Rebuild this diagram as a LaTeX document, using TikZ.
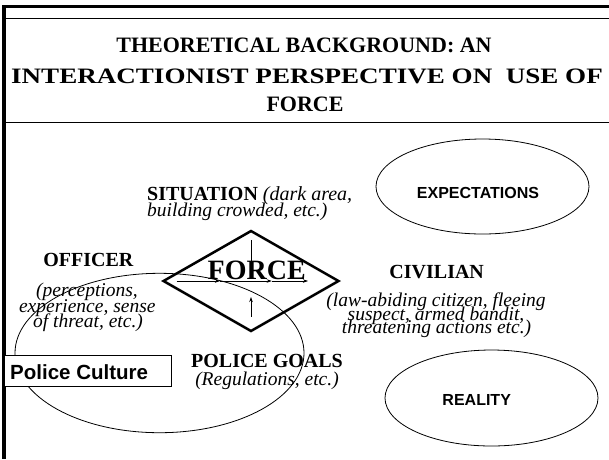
\documentclass[tikz,border=0pt]{standalone}
\usepackage{fontspec}
\usepackage{graphicx}
\setmainfont{Liberation Serif}
\setsansfont{Liberation Sans}
\usetikzlibrary{shapes.geometric,arrows.meta}
\newcommand\myfs[1]{\fontsize{#1}{#1}\selectfont}
\tikzset{
  lbl/.style={inner sep=0pt, anchor=base},
  titleb/.style={lbl, font={\myfs{22}\bfseries}},
  headb/.style={lbl, font={\myfs{20}\bfseries}},
  itl/.style={lbl, font={\myfs{19.5}\itshape}},
  sansb/.style={font={\sffamily\bfseries\myfs{16}}},
  thinframe/.style={line width=1pt},
  oval/.style={draw, ellipse, line width=0.8pt, inner sep=0pt},
  arr/.style={line width=0.7pt, -{Stealth[length=5pt,width=3.5pt]}},
  plain/.style={line width=0.7pt}
}
\begin{document}
\begin{tikzpicture}[x=1pt,y=-1pt]
\useasboundingbox (0,0) rectangle (609,459);
\fill[white] (0,0) rectangle (609,459);
% frame
\coordinate (ftl) at (2,6.5);
\coordinate (ftr) at (609,6.5);
\coordinate (fl0) at (4,5);
\coordinate (fl1) at (4,459);
\coordinate (a0) at (6,18);
\coordinate (a1) at (609,18);
\coordinate (b0) at (6,122.7);
\coordinate (b1) at (609,122.7);
\draw[line width=3pt] (ftl) -- (ftr);
\draw[line width=4pt] (fl0) -- (fl1);
\draw[thinframe] (a0) -- (a1);
\draw[thinframe] (b0) -- (b1);
% title
\node[titleb] (t1) at (304,52.5) {THEORETICAL BACKGROUND: AN};
\node[titleb] (t2) at (307,83.5) {\scalebox{1.23}[1]{INTERACTIONIST PERSPECTIVE ON\ \ USE OF}};
\node[titleb] (t3) at (305,111) {FORCE};
% ellipses
\node[oval, minimum width=213pt, minimum height=95pt] (exp) at (482.5,186.5) {};
\node[sansb, inner sep=0pt, anchor=base] (expt) at (478,198.3) {EXPECTATIONS};
\node[oval, minimum width=213pt, minimum height=96pt] (real) at (491.5,398) {};
\node[sansb, inner sep=0pt, anchor=base] (realt) at (476.7,405) {REALITY};
\node[oval, minimum width=289pt, minimum height=159.4pt] (off) at (159.5,353) {};
% police culture
\node[draw, fill=white, line width=0.9pt, minimum width=167.7pt, minimum height=31pt, inner sep=0pt] (pc) at (87.85,370.5) {};
\node[lbl, anchor=base west, font={\sffamily\bfseries\myfs{20.5}}] (pct) at (10,379.3) {Police Culture};
% diamond
\node[draw, diamond, line width=2.5pt, line join=miter, aspect=1.7426, minimum width=176pt, minimum height=101pt, inner sep=0pt] (dia) at (251,281) {};
\node[lbl, font={\myfs{28}\bfseries}] (force) at (256.7,279.5) {FORCE};
% arrows in diamond
\coordinate (h0) at (176.7,281);
\coordinate (h1) at (220,281);
\coordinate (h2) at (271.7,281);
\coordinate (h3) at (308,281);
\coordinate (v0) at (251,240);
\coordinate (v1) at (251,278);
\coordinate (w0) at (251,316.7);
\coordinate (w1) at (251,297);
\draw[arr] (h0) -- (h1);
\draw[arr] (h1) -- (h2);
\draw[arr] (h2) -- (h3);
\draw[plain] (v0) -- (v1);
\draw[arr] (w0) -- (w1);
% situation
\node[lbl, anchor=base west, font={\myfs{20}}] (sit1) at (147,200) {\textbf{SITUATION} \textit{(dark area,}};
\node[itl, anchor=base west] (sit2) at (147,216) {building crowded, etc.)};
% officer
\node[headb] (offh) at (88.3,266) {OFFICER};
\node[itl] (off1) at (87,296) {(perceptions,};
\node[itl] (off2) at (87.3,312.7) {experience, sense};
\node[itl] (off3) at (88,327.7) {of threat, etc.)};
% civilian
\node[headb] (civh) at (436.7,278.3) {CIVILIAN};
\node[itl] (civ1) at (436,306.5) {(law-abiding citizen, fleeing};
\node[itl] (civ2) at (436,320) {suspect, armed bandit,};
\node[itl] (civ3) at (436.5,333.5) {threatening actions etc.)};
% police goals
\node[headb] (pgh) at (267,367) {POLICE GOALS};
\node[itl] (pg1) at (267,385) {(Regulations, etc.)};
\end{tikzpicture}
\end{document}
